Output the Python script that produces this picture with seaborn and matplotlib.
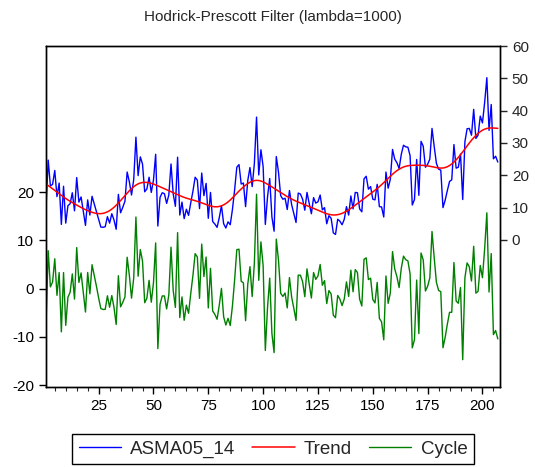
import numpy as np
import pandas as pd
import matplotlib
matplotlib.use("Agg")
import matplotlib.pyplot as plt
import seaborn as sns
from matplotlib.ticker import MultipleLocator, FixedLocator

sns.set_style("ticks")
plt.rcParams["font.family"] = ["Liberation Sans", "DejaVu Sans"]
plt.rcParams["axes.unicode_minus"] = False

title = "Hodrick-Prescott Filter (lambda=1000)"
series_name = "ASMA05_14"
lam = 1000

asma = [
    9.7, 24.7, 16.7, 17.2, 21.5, 13.4, 17.6, 4.8, 16.6, 5.2,
    10.6, 11.2, 14.6, 9.0, 19.3, 11.7, 13.3, 8.9, 4.5, 12.4,
    7.7, 13.5, 11.1, 8.7, 6.2, 4.0, 3.9, 4.1, 7.2, 5.2,
    8.1, 6.2, 3.3, 14.1, 8.4, 10.1, 12.0, 21.0, 18.0, 13.9,
    18.7, 31.8, 19.9, 25.7, 23.5, 14.9, 15.8, 19.4, 14.7, 18.5,
    26.5, 4.3, 13.2, 14.6, 14.3, 11.3, 13.9, 23.5, 14.2, 10.4,
    25.6, 7.7, 11.7, 6.6, 9.5, 7.6, 11.5, 15.1, 19.4, 18.5,
    9.7, 20.7, 13.7, 17.5, 6.7, 14.7, 5.7, 4.9, 3.9, 6.9,
    10.6, 5.0, 3.7, 5.6, 4.7, 9.4, 15.5, 22.5, 23.3, 17.3,
    17.6, 10.3, 18.4, 22.4, 16.5, 23.6, 38.0, 20.1, 27.9, 22.7,
    4.8, 13.3, 19.0, 7.1, 2.7, 25.8, 21.0, 13.7, 12.6, 12.9,
    9.4, 15.3, 10.9, 8.2, 5.4, 14.5, 14.2, 12.6, 9.2, 14.7,
    11.3, 8.1, 13.1, 11.4, 11.8, 13.9, 9.3, 10.0, 5.0, 7.5,
    6.7, 2.2, 1.7, 6.4, 5.8, 4.7, 6.4, 10.3, 7.7, 13.6,
    9.6, 14.7, 14.6, 9.6, 8.7, 18.9, 19.7, 15.7, 16.5, 12.6,
    12.4, 17.2, 10.3, 10.2, 7.1, 21.0, 16.0, 18.8, 28.0, 25.0,
    23.9, 22.1, 26.5, 29.3, 28.8, 28.7, 26.1, 10.8, 12.5, 24.9,
    13.8, 30.5, 29.0, 22.5, 23.4, 25.0, 34.5, 28.9, 23.7, 21.9,
    21.6, 10.0, 12.3, 15.3, 18.1, 18.6, 29.5, 22.2, 22.5, 26.6,
    12.5, 30.4, 34.4, 34.5, 32.4, 40.4, 31.4, 32.4, 38.3, 36.2,
    42.5, 50.2, 33.9, 41.9, 25.1, 25.9, 24.1,
]

left_ticks = [-20, -10, 0, 10, 20]
right_ticks = [0, 10, 20, 30, 40, 50, 60]
x_ticks = [25, 50, 75, 100, 125, 150, 175, 200]

# Hodrick-Prescott filter (the chart's own definition)
y = np.asarray(asma, dtype=float)
n = len(y)
D = np.zeros((n - 2, n))
for i in range(n - 2):
    D[i, i], D[i, i + 1], D[i, i + 2] = 1.0, -2.0, 1.0
trend = np.linalg.solve(np.eye(n) + lam * D.T @ D, y)
cycle = y - trend

obs = np.arange(1, n + 1)
df = pd.DataFrame({"obs": obs, "series": y, "trend": trend, "cycle": cycle})

fig = plt.figure(figsize=(5.35, 4.67), dpi=100)
ax = fig.add_axes([46 / 535, 1 - 387 / 467, 454 / 535, 341 / 467])
ax2 = ax.twinx()

sns.lineplot(data=df, x="obs", y="cycle", ax=ax, color="#008000", lw=1.0, label="Cycle", legend=False)
sns.lineplot(data=df, x="obs", y="series", ax=ax2, color="#0000FF", lw=1.0, label=series_name, legend=False)
sns.lineplot(data=df, x="obs", y="trend", ax=ax2, color="#FF0000", lw=1.1, label="Trend", legend=False)

ax.set_xlim(1, n + 1)
ax.set_ylim(-20.4, 50.3)
ax2.set_ylim(-45.5, 60)
ax.yaxis.set_major_locator(FixedLocator(left_ticks))
ax2.yaxis.set_major_locator(FixedLocator(right_ticks))
ax.xaxis.set_major_locator(FixedLocator(x_ticks))
ax.xaxis.set_minor_locator(MultipleLocator(5))

for a in (ax, ax2):
    a.set_xlabel("")
    a.set_ylabel("")
    for s in a.spines.values():
        s.set_visible(True)
        s.set_color("black")
        s.set_linewidth(1.0)

ax.tick_params(axis="both", which="major", direction="out", length=5, width=1, labelsize=11, colors="black")
ax.tick_params(axis="x", which="minor", direction="out", length=3, width=0.8)
ax2.tick_params(axis="y", which="major", direction="out", length=5, width=1, labelsize=11)

ax.set_title(title, fontsize=11, pad=18)

h1, l1 = ax2.get_legend_handles_labels()
h0, l0 = ax.get_legend_handles_labels()
leg = fig.legend(h1 + h0, l1 + l0, loc="upper center", bbox_to_anchor=(273 / 535, 1 - 434 / 467),
                 ncol=3, fontsize=13.5, frameon=True, fancybox=False, edgecolor="black",
                 framealpha=1, handlelength=2.25, columnspacing=0.9, borderpad=0.35,
                 handletextpad=0.5, borderaxespad=0)
leg.get_frame().set_linewidth(1.0)

fig.savefig("out.png", dpi=100)
